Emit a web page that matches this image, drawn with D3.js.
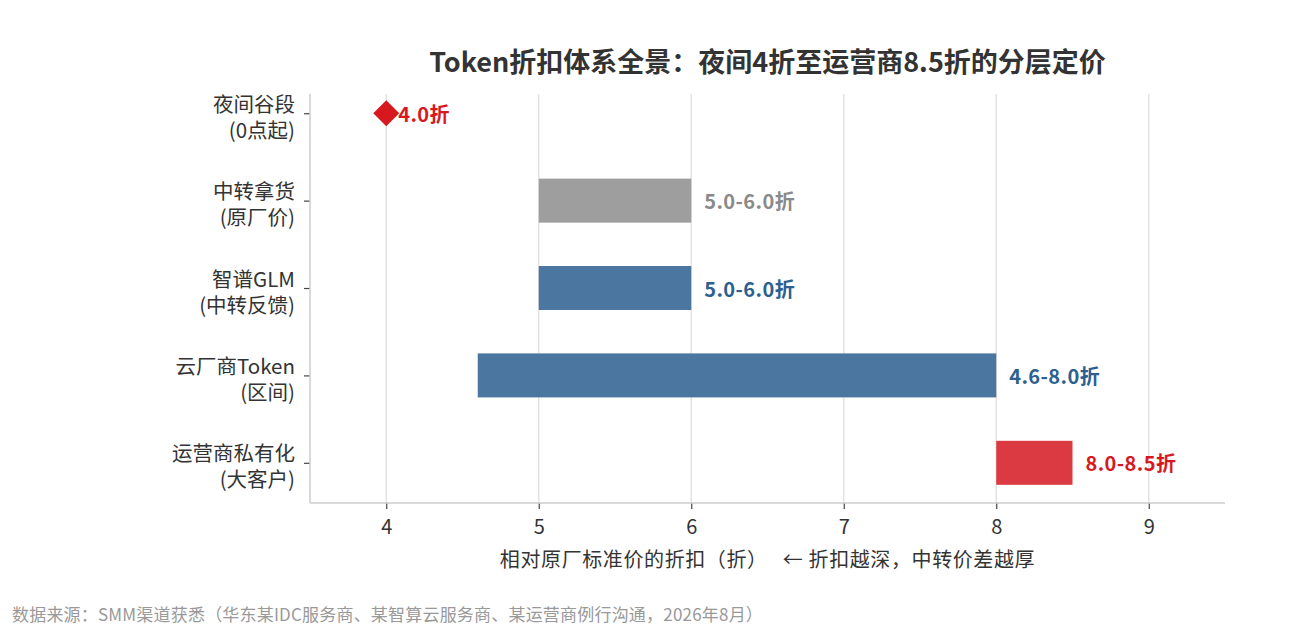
<!DOCTYPE html>
<html>
<head>
<meta charset="utf-8">
<script src="https://cdn.jsdelivr.net/npm/d3@7"></script>
<style>
  html, body { margin: 0; padding: 0; background: #fff; }
  svg { display: block; font-family: "Noto Sans CJK SC", "Noto Sans", sans-serif; }
</style>
</head>
<body>
<svg width="1290" height="630"></svg>
<script>
// categories, top to bottom
const categories = [
  ["夜间谷段", "(0点起)"],
  ["中转拿货", "(原厂价)"],
  ["智谱GLM", "(中转反馈)"],
  ["云厂商Token", "(区间)"],
  ["运营商私有化", "(大客户)"],
];
const lowValues = [4.0, 5.0, 5.0, 4.6, 8.0];
const highValues = [4.0, 6.0, 6.0, 8.0, 8.5];
const valueLabels = ["4.0折", "5.0-6.0折", "5.0-6.0折", "4.6-8.0折", "8.0-8.5折"];
const xTicks = [4, 5, 6, 7, 8, 9];

const fillColors = ["#d7191f", "#9e9e9e", "#4a76a0", "#4a76a0", "#dc3a42"];
const textColors = ["#d7191f", "#8a8a8a", "#2d5f8f", "#2d5f8f", "#d7191f"];

const svg = d3.select("svg");
const plotLeft = 310, plotRight = 1225, plotTop = 94, plotBottom = 503;

const x = d3.scaleLinear().domain([3.5, 9.5]).range([plotLeft, plotRight]);
const y = d3.scaleLinear().domain([-0.22, 4.46]).range([plotTop, plotBottom]);
const barH = 44;

// grid
svg.append("g")
  .selectAll("line")
  .data(xTicks)
  .join("line")
  .attr("x1", d => x(d)).attr("x2", d => x(d))
  .attr("y1", plotTop).attr("y2", plotBottom)
  .attr("stroke", "#e3e3e3")
  .attr("stroke-width", 1.5);

// bars (ranges)
const rows = categories.map((c, i) => ({ i, lo: lowValues[i], hi: highValues[i], label: valueLabels[i] }));

svg.append("g")
  .selectAll("rect")
  .data(rows.filter(d => d.hi > d.lo))
  .join("rect")
  .attr("x", d => x(d.lo))
  .attr("width", d => x(d.hi) - x(d.lo))
  .attr("y", d => y(d.i) - barH / 2)
  .attr("height", barH)
  .attr("fill", d => fillColors[d.i]);

// point marker (diamond)
svg.append("g")
  .selectAll("path")
  .data(rows.filter(d => d.hi === d.lo))
  .join("path")
  .attr("transform", d => `translate(${x(d.lo)},${y(d.i)})`)
  .attr("d", "M0,-13L13,0L0,13L-13,0Z")
  .attr("fill", d => fillColors[d.i]);

// value labels
svg.append("g")
  .selectAll("text")
  .data(rows)
  .join("text")
  .attr("x", d => x(d.hi) + (d.hi === d.lo ? 12 : 13))
  .attr("y", d => y(d.i))
  .attr("dominant-baseline", "central")
  .attr("font-size", 20)
  .attr("font-weight", "bold")
  .attr("letter-spacing", 0.4)
  .attr("fill", d => textColors[d.i])
  .text(d => d.label);

// x axis
const xAxis = svg.append("g")
  .attr("transform", `translate(0,${plotBottom})`)
  .call(d3.axisBottom(x).tickValues(xTicks).tickSize(6).tickPadding(11).tickFormat(d3.format("d")));
xAxis.select(".domain").remove();
xAxis.selectAll(".tick line").attr("stroke", "#444").attr("stroke-width", 1.2);
xAxis.selectAll(".tick text").attr("font-size", 20).attr("fill", "#333")
  .attr("font-family", "\"Noto Sans CJK SC\", sans-serif");

// y axis ticks
const yAxis = svg.append("g")
  .attr("transform", `translate(${plotLeft},0)`)
  .call(d3.axisLeft(y).tickValues(d3.range(categories.length)).tickSize(6).tickFormat(""));
yAxis.select(".domain").remove();
yAxis.selectAll(".tick line").attr("stroke", "#444").attr("stroke-width", 1.2);

// two-line category labels, one text per line
yAxis.selectAll(".tick")
  .selectAll("text.cat")
  .data(d => categories[d])
  .join("text")
  .attr("class", "cat")
  .attr("x", -15)
  .attr("y", (d, j) => j === 0 ? -11 : 15)
  .attr("text-anchor", "end")
  .attr("dominant-baseline", "central")
  .attr("font-size", 20.5)
  .attr("fill", "#333")
  .attr("font-family", "\"Noto Sans CJK SC\", sans-serif")
  .text(d => d);

// spines
svg.append("line")
  .attr("x1", plotLeft).attr("x2", plotLeft).attr("y1", plotTop).attr("y2", plotBottom)
  .attr("stroke", "#cccccc").attr("stroke-width", 1.5);
svg.append("line")
  .attr("x1", plotLeft).attr("x2", plotRight).attr("y1", plotBottom).attr("y2", plotBottom)
  .attr("stroke", "#cccccc").attr("stroke-width", 1.5);

// title
svg.append("text")
  .attr("x", (plotLeft + plotRight) / 2)
  .attr("y", 60)
  .attr("text-anchor", "middle")
  .attr("dominant-baseline", "central")
  .attr("font-size", 27)
  .attr("font-weight", "bold")
  .attr("fill", "#333")
  .text("Token折扣体系全景：夜间4折至运营商8.5折的分层定价");

// x label
svg.append("text")
  .attr("x", (plotLeft + plotRight) / 2)
  .attr("y", 558)
  .attr("text-anchor", "middle")
  .attr("dominant-baseline", "central")
  .attr("font-size", 20)
  .attr("letter-spacing", 0.6)
  .attr("fill", "#333")
  .style("white-space", "pre")
  .text("相对原厂标准价的折扣（折）   ← 折扣越深，中转价差越厚");

// footer
svg.append("text")
  .attr("x", 12)
  .attr("y", 613)
  .attr("dominant-baseline", "central")
  .attr("font-size", 17)
  .attr("letter-spacing", 0.2)
  .attr("fill", "#999")
  .text("数据来源：SMM渠道获悉（华东某IDC服务商、某智算云服务商、某运营商例行沟通，2026年8月）");
</script>
</body>
</html>
